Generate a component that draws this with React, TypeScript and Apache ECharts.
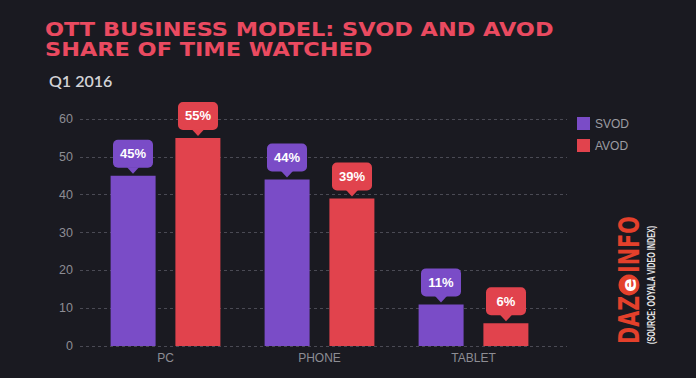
import React, { useEffect, useRef } from "react";
import * as echarts from "echarts";

const categories = ["PC", "PHONE", "TABLET"];
const seriesNames = ["SVOD", "AVOD"];
const svod = [45, 44, 11];
const avod = [55, 39, 6];
const yTicks = [0, 10, 20, 30, 40, 50, 60];
const titleLines = ["OTT BUSINESS MODEL: SVOD AND AVOD", "SHARE OF TIME WATCHED"];
const subtitle = "Q1 2016";

const BG = "#1a1a21";
const PURPLE = "#7a4cc7";
const RED = "#e1434d";
const TITLE = "#ea4a60";
const LOGO = "#e4402b";

export default function App() {
  const ref = useRef<HTMLDivElement>(null);
  useEffect(() => {
    if (!ref.current) return;
    const chart = echarts.init(ref.current, null, { renderer: "svg" });
    const bubbleData: any[] = [];
    svod.forEach((v, i) => bubbleData.push([i, v, 0]));
    avod.forEach((v, i) => bubbleData.push([i, v, 1]));
    const colors = [PURPLE, RED];

    const titleTexts = titleLines.map((t, i) => ({
      type: "text",
      x: 45,
      y: 30 + i * 20,
      scaleX: 1.18,
      style: {
        text: t,
        fill: TITLE,
        fontFamily: "DejaVu Sans",
        fontWeight: "bold",
        fontSize: 19,
        align: "left",
        verticalAlign: "middle",
      },
    }));

    chart.setOption({
      animation: false,
      backgroundColor: BG,
      title: {
        text: subtitle,
        left: 49,
        top: 72,
        padding: 0,
        textStyle: {
          color: "#d2d2d6",
          fontFamily: "Lato",
          fontWeight: 600,
          fontSize: 16,
        },
      },
      legend: {
        data: seriesNames,
        orient: "vertical",
        left: 577,
        top: 117,
        padding: 0,
        icon: "rect",
        itemWidth: 13,
        itemHeight: 13,
        itemGap: 9,
        textStyle: { color: "#9c9ca2", fontSize: 12, fontFamily: "Liberation Sans" },
      },
      grid: [
        { left: 80, right: 129, top: 119, bottom: 32 },
        { left: 88.5, width: 462, top: 119, bottom: 32 },
      ],
      xAxis: [
        { type: "value", gridIndex: 0, show: false, min: 0, max: 1 },
        {
          type: "category",
          gridIndex: 1,
          data: categories,
          axisLine: { show: false },
          axisTick: { show: false },
          axisLabel: { color: "#8d8d94", fontSize: 12, fontFamily: "Liberation Sans", margin: 6 },
        },
      ],
      yAxis: [
        {
          type: "value",
          gridIndex: 0,
          min: yTicks[0],
          max: yTicks[yTicks.length - 1],
          interval: 10,
          axisLine: { show: false },
          axisTick: { show: false },
          axisLabel: { color: "#8d8d94", fontSize: 12.5, fontFamily: "Liberation Sans", margin: 7 },
          splitLine: { lineStyle: { color: "#4a4a54", type: [3, 3], width: 1 } },
        },
        {
          type: "value",
          gridIndex: 1,
          min: yTicks[0],
          max: yTicks[yTicks.length - 1],
          show: false,
          splitLine: { show: false },
        },
      ],
      series: [
        {
          name: seriesNames[0],
          type: "bar",
          xAxisIndex: 1,
          yAxisIndex: 1,
          data: svod,
          barWidth: 45,
          barGap: "44%",
          itemStyle: { color: PURPLE },
        },
        {
          name: seriesNames[1],
          type: "bar",
          xAxisIndex: 1,
          yAxisIndex: 1,
          data: avod,
          barWidth: 45,
          barGap: "44%",
          itemStyle: { color: RED },
        },
        {
          type: "custom",
          xAxisIndex: 1,
          yAxisIndex: 1,
          data: bubbleData,
          z: 10,
          renderItem: (params: any, api: any) => {
            const c = api.value(0);
            const v = api.value(1);
            const s = api.value(2);
            const p = api.coord([c, v]);
            const x = p[0] + (s === 0 ? -32.5 : 32.5);
            const tip = p[1] - 2;
            const w = 40;
            const h = 28;
            const ph = 6;
            const col = colors[s];
            return {
              type: "group",
              children: [
                {
                  type: "rect",
                  shape: { x: x - w / 2, y: tip - ph - h, width: w, height: h, r: 5 },
                  style: { fill: col },
                },
                {
                  type: "polygon",
                  shape: { points: [[x - 6, tip - ph - 0.5], [x + 6, tip - ph - 0.5], [x, tip]] },
                  style: { fill: col },
                },
                {
                  type: "text",
                  x: x,
                  y: tip - ph - h / 2,
                  style: {
                    text: v + "%",
                    fill: "#ffffff",
                    fontSize: 13,
                    fontWeight: "bold",
                    fontFamily: "Liberation Sans",
                    align: "center",
                    verticalAlign: "middle",
                  },
                },
              ],
            };
          },
        },
      ],
      graphic: [
        ...titleTexts,
        {
          type: "group",
          x: 619,
          y: 344,
          rotation: Math.PI / 2,
          children: [
            {
              type: "text",
              x: 0,
              y: -4,
              scaleX: 0.74,
              style: {
                text: "DAZ",
                fill: LOGO,
                fontSize: 28,
                fontWeight: "bold",
                fontFamily: "DejaVu Sans",
                align: "left",
                verticalAlign: "top",
              },
            },
            {
              type: "circle",
              shape: { cx: 59, cy: 10, r: 10.5 },
              style: { fill: LOGO },
            },
            {
              type: "text",
              x: 59,
              y: 9.5,
              style: {
                text: "e",
                fill: "#ffffff",
                fontSize: 20,
                fontWeight: "bold",
                fontFamily: "DejaVu Sans",
                align: "center",
                verticalAlign: "middle",
              },
            },
            {
              type: "text",
              x: 71,
              y: -4,
              scaleX: 0.74,
              style: {
                text: "INFO",
                fill: LOGO,
                fontSize: 28,
                fontWeight: "bold",
                fontFamily: "DejaVu Sans",
                align: "left",
                verticalAlign: "top",
              },
            },
            {
              type: "text",
              x: 0,
              y: 28,
              scaleX: 0.72,
              style: {
                text: "(SOURCE: OOYALA VIDEO INDEX)",
                fill: "#e6e6e6",
                fontSize: 10,
                fontWeight: "bold",
                fontFamily: "Liberation Sans",
                align: "left",
                verticalAlign: "top",
              },
            },
          ],
        },
      ],
    });
    return () => chart.dispose();
  }, []);
  return <div ref={ref} style={{ width: 696, height: 378, position: "fixed", left: 0, top: 0 }} />;
}
